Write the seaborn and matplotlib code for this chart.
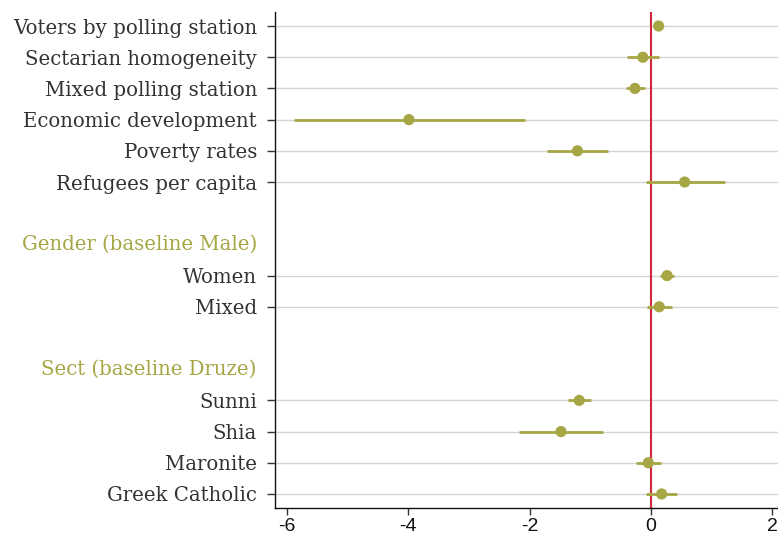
import numpy as np
import pandas as pd
import matplotlib
matplotlib.use("Agg")
import matplotlib.pyplot as plt
import matplotlib.transforms as mtransforms
import seaborn as sns

# Coefficient estimates with 95% confidence intervals
variables = [
    "Voters by polling station", "Sectarian homogeneity", "Mixed polling station",
    "Economic development", "Poverty rates", "Refugees per capita",
    "Women", "Mixed",
    "Sunni", "Shia", "Maronite", "Greek Catholic",
]
rows = [0, 1, 2, 3, 4, 5, 8, 9, 12, 13, 14, 15]
coef = [0.13, -0.13, -0.26, -3.99, -1.21, 0.56, 0.27, 0.14, -1.18, -1.48, -0.04, 0.18]
ci_low = [0.08, -0.39, -0.41, -5.89, -1.71, -0.08, 0.16, -0.06, -1.37, -2.18, -0.25, -0.08]
ci_high = [0.18, 0.13, -0.10, -2.08, -0.71, 1.22, 0.38, 0.35, -0.99, -0.79, 0.17, 0.43]

group_headers = ["Gender (baseline Male)", "Sect (baseline Druze)"]
header_rows = [7, 11]

x_ticks = [-6, -4, -2, 0, 2]

df = pd.DataFrame({"variable": variables, "row": rows, "coef": coef,
                   "lo": ci_low, "hi": ci_high})

olive = "#A6A645"
label_size = 14.2
sns.set_style("white")

fig = plt.figure(figsize=(7.78, 5.36), dpi=100)
ax = fig.add_axes([275 / 778, 28 / 536, 503 / 778, 496 / 536])

# horizontal reference lines per coefficient row
for r in df["row"]:
    ax.axhline(r, color="#d4d4d4", lw=1.0, zorder=0)

ax.axvline(0, color="#d0283a", lw=1.5, zorder=1)

ax.hlines(df["row"], df["lo"], df["hi"], color=olive, lw=2.0, zorder=2)
sns.scatterplot(data=df, x="coef", y="row", ax=ax, color=olive, s=65,
                edgecolor="none", zorder=3, legend=False)

ax.set_xlim(-6.2, 2.1)
ax.set_ylim(15.45, -0.45)
ax.set_xticks(x_ticks)
ax.set_xticklabels([str(t) for t in x_ticks], fontfamily="Liberation Sans",
                   fontsize=14, color="#111111")
ax.set_yticks(rows)
ax.set_yticklabels(variables, fontfamily="DejaVu Serif", fontsize=label_size,
                   color="#333333")
ax.set_xlabel("")
ax.set_ylabel("")

ax.tick_params(axis="y", length=6, width=1, color="#333333", pad=7, left=True)
ax.tick_params(axis="x", length=5, width=1, color="#333333", pad=2, bottom=True)

for side in ["top", "right"]:
    ax.spines[side].set_visible(False)
for side in ["left", "bottom"]:
    ax.spines[side].set_color("#111111")
    ax.spines[side].set_linewidth(1.0)

# group headings placed in the label column
trans = mtransforms.blended_transform_factory(ax.transAxes, ax.transData)
offset = mtransforms.ScaledTranslation(-13 / 72, 0, fig.dpi_scale_trans)
for label, r in zip(group_headers, header_rows):
    ax.text(0, r, label, transform=trans + offset, ha="right", va="center",
            fontfamily="DejaVu Serif", fontsize=label_size, color=olive)

fig.savefig("out.png", dpi=100)
